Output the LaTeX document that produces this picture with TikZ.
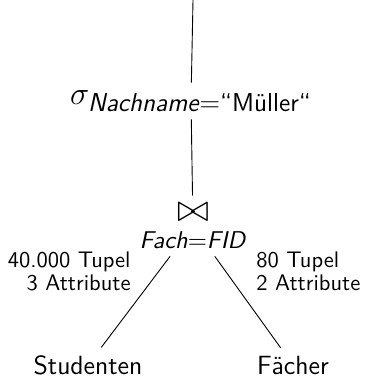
\documentclass[tikz,border=0pt]{standalone}
\usepackage{amsmath}
\usepackage{tikz}
\usetikzlibrary{positioning}
\newcommand{\sfit}[1]{\textsf{\itshape #1}}

\begin{document}
\begin{tikzpicture}[x=0.4444pt, y=-0.4444pt]
        \tikzstyle{every node}=[font=\sffamily\fontsize{10}{10.2}\selectfont]
        \tikzstyle{leaf}=[font=\sffamily\fontsize{11.7}{14}\selectfont]
        \tikzstyle{info}=[inner sep=0pt]
        \useasboundingbox (0,0) rectangle (364,378);

        \coordinate (top) at (193,0);
        \node   (sel)   at (191,101) {\fontsize{14}{16}\selectfont$\sigma_{\mbox{\fontsize{11.5}{13}\selectfont\sfit{Nachname}$=$“Müller“}}$};
        \node   (join)  [align=center] at (193,226) {\fontsize{16}{11}\selectfont$\bowtie$\\[1.5pt]\fontsize{10.8}{12}\selectfont\sfit{Fach}$=$\sfit{FID}};
        \node   (stud)  [leaf] at (88,365) {Studenten};
        \node   (faech) [leaf] at (293,365) {Fächer};
        \node   (infoS) [info, anchor=east, align=right] at (131,271) {40.000 Tupel\\3 Attribute};
        \node   (infoF) [info, anchor=west, align=left] at (256,271) {80 Tupel\\2 Attribute};

        \path (top) edge (sel)
              (sel) edge (join)
              (join) edge (stud)
              (join) edge (faech);

    \end{tikzpicture}
\end{document}
